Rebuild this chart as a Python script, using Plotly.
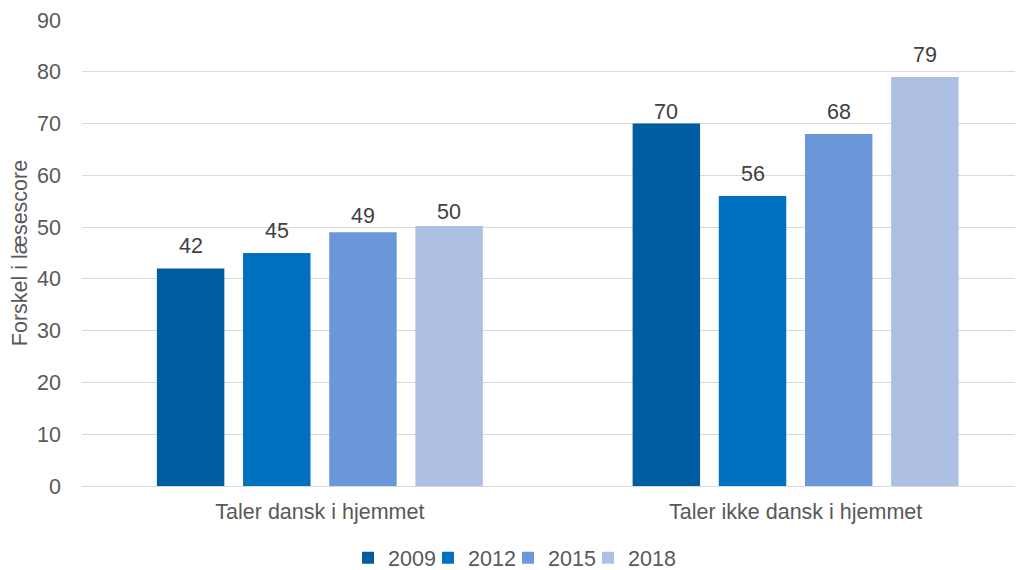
import plotly.graph_objects as go

categories = ['Taler dansk i hjemmet', 'Taler ikke dansk i hjemmet']
years = ['2009', '2012', '2015', '2018']
values = {
    '2009': [42, 70],
    '2012': [45, 56],
    '2015': [49, 68],
    '2018': [50.2, 79],
}
labels = {
    '2009': ['42', '70'],
    '2012': ['45', '56'],
    '2015': ['49', '68'],
    '2018': ['50', '79'],
}
colors = ['#005DA2', '#0070C0', '#6B97D9', '#ADC0E4']
# pixel nudges of the value labels (some sit closer to their bar in the original)
label_shift = {
    '2009': [9, -2],
    '2012': [8, 8],
    '2015': [2, 8],
    '2018': [0, 8],
}

font = 'Liberation Sans, Arial, sans-serif'
fsize = 21.5
bargap = 0.2755

fig = go.Figure()
for year, color in zip(years, colors):
    fig.add_trace(go.Bar(
        name=year,
        x=categories,
        y=values[year],
        marker=dict(color=color, line=dict(width=0)),
    ))

# empty entry so the narrow legend entries don't clip the last label
fig.add_trace(go.Scatter(
    x=[None], y=[None], mode='markers', name=' ',
    marker=dict(color='rgba(0,0,0,0)'), hoverinfo='skip',
))

# value labels above the bars, placed at each bar's slot in the group
slot = (1 - bargap) / len(years)
for j, year in enumerate(years):
    for i, cat in enumerate(categories):
        fig.add_annotation(
            x=i - (1 - bargap) / 2 + slot * (j + 0.5),
            y=values[year][i],
            text=labels[year][i],
            showarrow=False,
            yanchor='bottom',
            yshift=label_shift[year][i],
            font=dict(size=fsize, color='#404040', family=font),
        )

# the page body adds an 8px offset, so the figure is sized to fit the window
fig.update_layout(
    width=1015,
    height=562,
    barmode='group',
    bargap=bargap,
    bargroupgap=0.217,
    plot_bgcolor='white',
    paper_bgcolor='white',
    margin=dict(l=74, r=0, t=12, b=84, autoexpand=False),
    font=dict(family=font, size=fsize, color='#595959'),
    showlegend=True,
    legend=dict(
        orientation='h',
        x=0.2827, xanchor='left',
        y=-0.110, yanchor='top',
        font=dict(size=fsize, color='#595959'),
        itemwidth=30,
        entrywidth=35,
        entrywidthmode='pixels',
        tracegroupgap=0,
        traceorder='normal',
    ),
    yaxis=dict(
        range=[0, 90],
        dtick=10,
        automargin=False,
        showgrid=True,
        gridcolor='#D9D9D9',
        gridwidth=1,
        zeroline=True,
        zerolinecolor='#D9D9D9',
        zerolinewidth=1,
        ticks='',
        ticklabelstandoff=20,
        title=dict(text='Forskel i læsescore', font=dict(size=fsize, color='#595959'), standoff=8),
        tickfont=dict(size=fsize, color='#595959'),
    ),
    xaxis=dict(
        range=[-0.5, 1.478],
        automargin=False,
        showline=True,
        linecolor='#D9D9D9',
        ticks='',
        ticklabelstandoff=6,
        tickfont=dict(size=fsize, color='#595959'),
    ),
)

fig.write_html('out.html')
